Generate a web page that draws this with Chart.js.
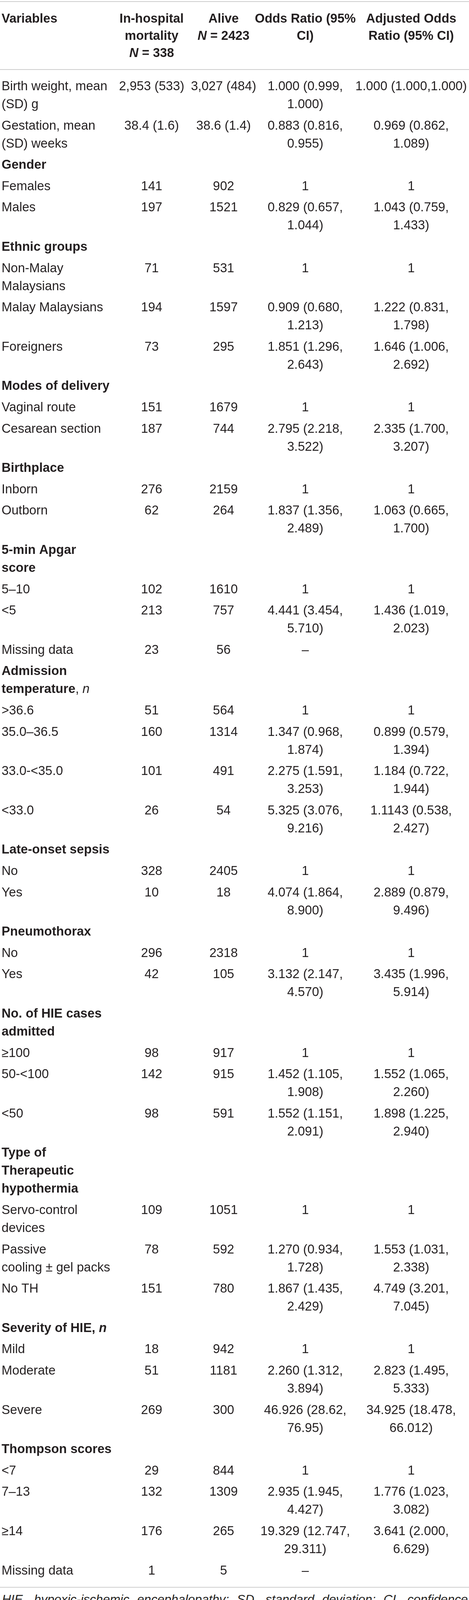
<!DOCTYPE html>
<html>
<head>
<meta charset="utf-8">
<title>In-hospital mortality table</title>
<script src="https://cdn.jsdelivr.net/npm/chart.js@4.4.1/dist/chart.umd.min.js"></script>
<style>
  html, body { margin: 0; padding: 0; background: #ffffff; }
  body { position: relative; width: 1200px; height: 4159px; overflow: hidden; }
  #c { display: block; position: absolute; left: 0; top: 0; }
  #foot {
    position: absolute; left: 5px; top: 4072px; width: 1192px;
    font: italic 32px "Liberation Sans", Arial, sans-serif;
    line-height: 44px; color: #231f20;
  }
  #foot .j { text-align: justify; text-align-last: justify; }
</style>
</head>
<body>
<canvas id="c" width="1200" height="4072"></canvas>
<div id="foot">
  <div class="j">HIE, hypoxic-ischemic encephalopathy; SD, standard deviation; CI, confidence</div>
  <div>intervals; TH, therapeutic hypothermia.</div>
</div>
<script>
// ---------------- DATA ----------------
// '*' toggles italic, '^' toggles regular (non-bold) weight inside a bold cell
const columnHeaders = [
  'Variables',
  'In-hospital\nmortality\n*N* = 338',
  'Alive\n*N* = 2423',
  'Odds Ratio (95%\nCI)',
  'Adjusted Odds\nRatio (95% CI)'
];

const variables = [
  'Birth weight, mean\n(SD) g',
  'Gestation, mean\n(SD) weeks',
  'Gender',
  'Females',
  'Males',
  'Ethnic groups',
  'Non-Malay\nMalaysians',
  'Malay Malaysians',
  'Foreigners',
  'Modes of delivery',
  'Vaginal route',
  'Cesarean section',
  'Birthplace',
  'Inborn',
  'Outborn',
  '5-min Apgar\nscore',
  '5–10',
  '<5',
  'Missing data',
  'Admission\ntemperature^, *n*^',
  '>36.6',
  '35.0–36.5',
  '33.0-<35.0',
  '<33.0',
  'Late-onset sepsis',
  'No',
  'Yes',
  'Pneumothorax',
  'No',
  'Yes',
  'No. of HIE cases\nadmitted',
  '≥100',
  '50-<100',
  '<50',
  'Type of\nTherapeutic\nhypothermia',
  'Servo-control\ndevices',
  'Passive\ncooling ± gel packs',
  'No TH',
  'Severity of HIE, *n*',
  'Mild',
  'Moderate',
  'Severe',
  'Thompson scores',
  '<7',
  '7–13',
  '≥14',
  'Missing data'
];

const groupRows = [2, 5, 9, 12, 15, 19, 24, 27, 30, 34, 38, 42];

const mortality = [
  '2,953 (533)', '38.4 (1.6)',
  '', '141', '197',
  '', '71', '194', '73',
  '', '151', '187',
  '', '276', '62',
  '', '102', '213', '23',
  '', '51', '160', '101', '26',
  '', '328', '10',
  '', '296', '42',
  '', '98', '142', '98',
  '', '109', '78', '151',
  '', '18', '51', '269',
  '', '29', '132', '176', '1'
];

const alive = [
  '3,027 (484)', '38.6 (1.4)',
  '', '902', '1521',
  '', '531', '1597', '295',
  '', '1679', '744',
  '', '2159', '264',
  '', '1610', '757', '56',
  '', '564', '1314', '491', '54',
  '', '2405', '18',
  '', '2318', '105',
  '', '917', '915', '591',
  '', '1051', '592', '780',
  '', '942', '1181', '300',
  '', '844', '1309', '265', '5'
];

const oddsRatio = [
  '1.000 (0.999,\n1.000)', '0.883 (0.816,\n0.955)',
  '', '1', '0.829 (0.657,\n1.044)',
  '', '1', '0.909 (0.680,\n1.213)', '1.851 (1.296,\n2.643)',
  '', '1', '2.795 (2.218,\n3.522)',
  '', '1', '1.837 (1.356,\n2.489)',
  '', '1', '4.441 (3.454,\n5.710)', '–',
  '', '1', '1.347 (0.968,\n1.874)', '2.275 (1.591,\n3.253)', '5.325 (3.076,\n9.216)',
  '', '1', '4.074 (1.864,\n8.900)',
  '', '1', '3.132 (2.147,\n4.570)',
  '', '1', '1.452 (1.105,\n1.908)', '1.552 (1.151,\n2.091)',
  '', '1', '1.270 (0.934,\n1.728)', '1.867 (1.435,\n2.429)',
  '', '1', '2.260 (1.312,\n3.894)', '46.926 (28.62,\n76.95)',
  '', '1', '2.935 (1.945,\n4.427)', '19.329 (12.747,\n29.311)', '–'
];

const adjustedOddsRatio = [
  '1.000 (1.000,1.000)', '0.969 (0.862,\n1.089)',
  '', '1', '1.043 (0.759,\n1.433)',
  '', '1', '1.222 (0.831,\n1.798)', '1.646 (1.006,\n2.692)',
  '', '1', '2.335 (1.700,\n3.207)',
  '', '1', '1.063 (0.665,\n1.700)',
  '', '1', '1.436 (1.019,\n2.023)', '',
  '', '1', '0.899 (0.579,\n1.394)', '1.184 (0.722,\n1.944)', '1.1143 (0.538,\n2.427)',
  '', '1', '2.889 (0.879,\n9.496)',
  '', '1', '3.435 (1.996,\n5.914)',
  '', '1', '1.552 (1.065,\n2.260)', '1.898 (1.225,\n2.940)',
  '', '1', '1.553 (1.031,\n2.338)', '4.749 (3.201,\n7.045)',
  '', '1', '2.823 (1.495,\n5.333)', '34.925 (18.478,\n66.012)',
  '', '1', '1.776 (1.023,\n3.082)', '3.641 (2.000,\n6.629)', ''
];

// ---------------- LAYOUT / STYLE ----------------
const LAYOUT = {
  width: 1200, height: 4072,
  colAnchor: [4, 388, 572, 781, 1052],
  colAlign: ['left', 'center', 'center', 'center', 'center'],
  topRule: 4,
  headerBaseline: 58, headerLine: 44,
  headerRule: 178,
  bodyBaseline: 231, bodyLine: 46, rowGap: 54.6,
  bottomRuleGap: 33
};
const STYLE = {
  family: '"Liberation Sans", Arial, Helvetica, sans-serif',
  size: 32.7, headerSize: 32.5,
  color: '#231f20',
  ruleColor: '#cdcdcd', ruleWidth: 2
};

// ---------------- BUILD ----------------
const bodyCols = [variables, mortality, alive, oddsRatio, adjustedOddsRatio];
const nRows = variables.length;
const lineCounts = variables.map((_, i) => Math.max(...bodyCols.map(c => c[i].split('\n').length)));
const rowY = [];
{
  let y = LAYOUT.bodyBaseline;
  for (let i = 0; i < nRows; i++) {
    rowY.push(y);
    y += (lineCounts[i] - 1) * LAYOUT.bodyLine + LAYOUT.rowGap;
  }
}
const lastBaseline = rowY[nRows - 1] + (lineCounts[nRows - 1] - 1) * LAYOUT.bodyLine;
const rules = [LAYOUT.topRule, LAYOUT.headerRule, lastBaseline + LAYOUT.bottomRuleGap];

const datasets = bodyCols.map((col, ci) => ({
  label: columnHeaders[ci].replace(/[*^]/g, '').replace(/\n/g, ' '),
  align: LAYOUT.colAlign[ci],
  pointRadius: 0, pointHoverRadius: 0, borderWidth: 0,
  data: [
    { x: LAYOUT.colAnchor[ci], y: LAYOUT.headerBaseline, text: columnHeaders[ci], bold: true, lh: LAYOUT.headerLine, size: STYLE.headerSize },
    ...col.map((t, ri) => ({
      x: LAYOUT.colAnchor[ci], y: rowY[ri], text: t,
      bold: ci === 0 && groupRows.includes(ri), lh: LAYOUT.bodyLine, size: STYLE.size
    }))
  ]
}));

function parseRich(str) {
  const segs = []; let it = false, reg = false, buf = '';
  for (const ch of str) {
    if (ch === '*' || ch === '^') {
      if (buf) segs.push({ t: buf, it, reg });
      buf = '';
      if (ch === '*') it = !it; else reg = !reg;
    } else buf += ch;
  }
  if (buf) segs.push({ t: buf, it, reg });
  return segs;
}
function fontFor(seg, bold, size) {
  return (seg.it ? 'italic ' : '') + (bold && !seg.reg ? 'bold ' : '') + size + 'px ' + STYLE.family;
}
function drawRich(ctx, str, x, y, align, bold, size) {
  const segs = parseRich(str);
  let total = 0;
  segs.forEach(s => { ctx.font = fontFor(s, bold, size); s.w = ctx.measureText(s.t).width; total += s.w; });
  let cx = align === 'center' ? x - total / 2 : x;
  ctx.textAlign = 'left'; ctx.textBaseline = 'alphabetic';
  segs.forEach(s => { ctx.font = fontFor(s, bold, size); ctx.fillText(s.t, cx, y); cx += s.w; });
}

const tablePlugin = {
  id: 'tableText',
  afterDatasetsDraw(chart) {
    const ctx = chart.ctx, xs = chart.scales.x, ys = chart.scales.y;
    ctx.save();
    ctx.strokeStyle = STYLE.ruleColor; ctx.lineWidth = STYLE.ruleWidth;
    rules.forEach(r => {
      const py = ys.getPixelForValue(r);
      ctx.beginPath();
      ctx.moveTo(xs.getPixelForValue(xs.min), py);
      ctx.lineTo(xs.getPixelForValue(xs.max), py);
      ctx.stroke();
    });
    ctx.fillStyle = STYLE.color;
    chart.data.datasets.forEach((ds, ci) => {
      const meta = chart.getDatasetMeta(ci);
      meta.data.forEach((el, ri) => {
        const cell = ds.data[ri];
        if (!cell.text) return;
        cell.text.split('\n').forEach((ln, k) => {
          const py = ys.getPixelForValue(cell.y + k * cell.lh);
          drawRich(ctx, ln, el.x, py, ds.align, cell.bold, cell.size);
        });
      });
    });
    ctx.restore();
  }
};

new Chart(document.getElementById('c'), {
  type: 'scatter',
  data: { datasets },
  options: {
    responsive: false,
    maintainAspectRatio: false,
    animation: false,
    events: [],
    layout: { padding: 0 },
    plugins: { legend: { display: false }, tooltip: { enabled: false } },
    scales: {
      x: { type: 'linear', min: 0, max: LAYOUT.width, display: false },
      y: { type: 'linear', min: 0, max: LAYOUT.height, reverse: true, display: false }
    }
  },
  plugins: [tablePlugin]
});
</script>
</body>
</html>
